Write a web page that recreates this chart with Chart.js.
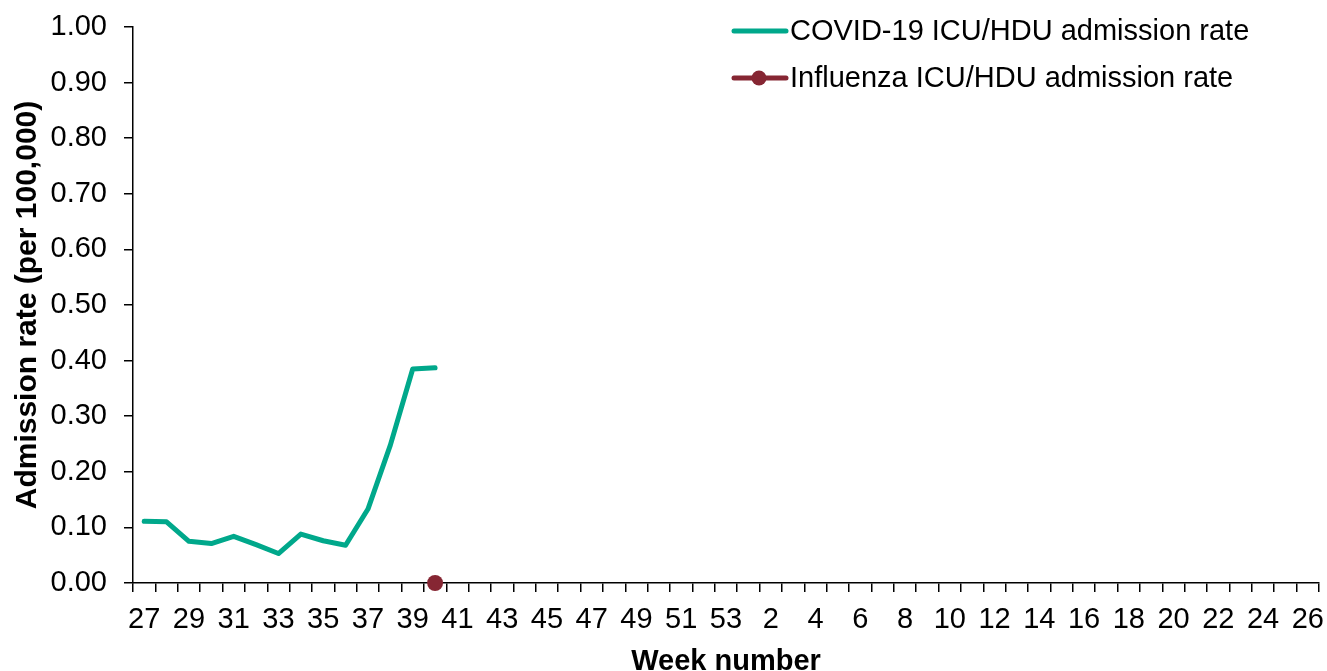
<!DOCTYPE html>
<html>
<head>
<meta charset="utf-8">
<script src="https://cdn.jsdelivr.net/npm/chart.js@4/dist/chart.umd.min.js"></script>
<style>
	html, body { margin: 0; padding: 0; background: #fff; }
	#wrap { width: 1327px; height: 671px; position: relative; }
</style>
</head>
<body>
<div id="wrap"><canvas id="icu-chart"></canvas></div>
<script>
	"use strict";

	// Week numbers (week 27 to week 26 of the following year)
	var weeks = [27, 28, 29, 30, 31, 32, 33, 34, 35, 36, 37, 38, 39, 40, 41, 42, 43, 44, 45, 46, 47, 48, 49, 50, 51, 52, 53,
		1, 2, 3, 4, 5, 6, 7, 8, 9, 10, 11, 12, 13, 14, 15, 16, 17, 18, 19, 20, 21, 22, 23, 24, 25, 26];

	// Reported weeks so far
	var covidRate = [0.111, 0.110, 0.075, 0.071, 0.084, 0.069, 0.053, 0.088, 0.076, 0.068, 0.133, 0.248, 0.385, 0.387];
	var fluRate = [null, null, null, null, null, null, null, null, null, null, null, null, null, 0.00];

	var yTicks = [0, 0.1, 0.2, 0.3, 0.4, 0.5, 0.6, 0.7, 0.8, 0.9, 1.0];

	var seriesNames = ['COVID-19 ICU/HDU admission rate', 'Influenza ICU/HDU admission rate'];
	var covidColor = '#00A88B';
	var fluColor = '#862633';
	var fontFamily = '"Liberation Sans", Arial, sans-serif';

	// pad series out to the whole season
	function padSeason(values) {
		var out = [];
		for (var i = 0; i < weeks.length; i++) {
			out.push(i < values.length ? values[i] : null);
		}
		return out;
	}

	// legend sits inside the plot area, drawn by hand (line + marker)
	var legendPlugin = {
		id: 'insideLegend',
		afterDraw: function (chart) {
			var ctx = chart.ctx;
			ctx.save();
			ctx.font = '29px ' + fontFamily;
			ctx.fillStyle = '#000';
			ctx.textBaseline = 'middle';
			ctx.lineCap = 'round';

			var rows = [
				{ y: 31, color: covidColor, dot: false },
				{ y: 78, color: fluColor, dot: true }
			];
			rows.forEach(function (row, i) {
				ctx.strokeStyle = row.color;
				ctx.lineWidth = 5;
				ctx.beginPath();
				ctx.moveTo(734, row.y);
				ctx.lineTo(786, row.y);
				ctx.stroke();
				if (row.dot) {
					ctx.fillStyle = row.color;
					ctx.beginPath();
					ctx.arc(759, row.y, 7.5, 0, Math.PI * 2);
					ctx.fill();
					ctx.fillStyle = '#000';
				}
				ctx.fillText(seriesNames[i], 790, row.y + 1);
			});
			ctx.restore();
		}
	};

	var data = {
		labels: weeks,
		datasets: [{
			label: seriesNames[0],
			data: padSeason(covidRate),
			borderColor: covidColor,
			backgroundColor: covidColor,
			borderWidth: 5,
			pointRadius: 0,
			tension: 0,
			borderCapStyle: 'round',
			borderJoinStyle: 'round'
		}, {
			label: seriesNames[1],
			data: padSeason(fluRate),
			borderColor: fluColor,
			backgroundColor: fluColor,
			borderWidth: 5,
			pointRadius: 8,
			pointBorderWidth: 0,
			clip: false
		}]
	};

	var config = {
		type: 'line',
		data: data,
		options: {
			responsive: false,
			animation: false,
			layout: { padding: { top: 27, right: 4, left: 0, bottom: 0 } },
			plugins: {
				legend: { display: false },
				tooltip: { enabled: false }
			},
			scales: {
				x: {
					offset: true,
					grid: { offset: true, drawOnChartArea: false, tickLength: 9, color: '#000', lineWidth: 1.5 },
					border: { color: '#000', width: 1.5 },
					ticks: {
						autoSkip: false,
						maxRotation: 0,
						padding: 11,
						color: '#000',
						font: { family: fontFamily, size: 29 },
						callback: function (value, index) {
							return index % 2 === 0 ? weeks[index] : '';
						}
					},
					title: {
						display: true,
						text: 'Week number',
						color: '#000',
						font: { family: fontFamily, size: 29, weight: 'bold', lineHeight: 1 },
						padding: { top: 0, bottom: -5 }
					},
					afterFit: function (scale) {
						scale.height = 88;
						scale.paddingLeft = 0;
						scale.paddingRight = 0;
					}
				},
				y: {
					min: 0,
					max: 1,
					grid: { drawOnChartArea: false, tickLength: 9, color: '#000', lineWidth: 1.5 },
					border: { color: '#000', width: 1.5 },
					afterBuildTicks: function (scale) {
						scale.ticks = yTicks.map(function (v) { return { value: v }; });
					},
					ticks: {
						padding: 17,
						color: '#000',
						font: { family: fontFamily, size: 29 },
						callback: function (value) { return Number(value).toFixed(2); }
					},
					title: {
						display: true,
						text: 'Admission rate (per 100,000)',
						color: '#000',
						font: { family: fontFamily, size: 30, weight: 'bold', lineHeight: 1 },
						padding: { top: 13, bottom: 0 }
					},
					afterFit: function (scale) {
						scale.width = 133;
						scale.paddingTop = 0;
						scale.paddingBottom = 0;
					}
				}
			}
		},
		plugins: [legendPlugin]
	};

	var ctx = document.getElementById('icu-chart');
	ctx.width = 1327;
	ctx.height = 671;
	new Chart(ctx, config);
</script>
</body>
</html>
